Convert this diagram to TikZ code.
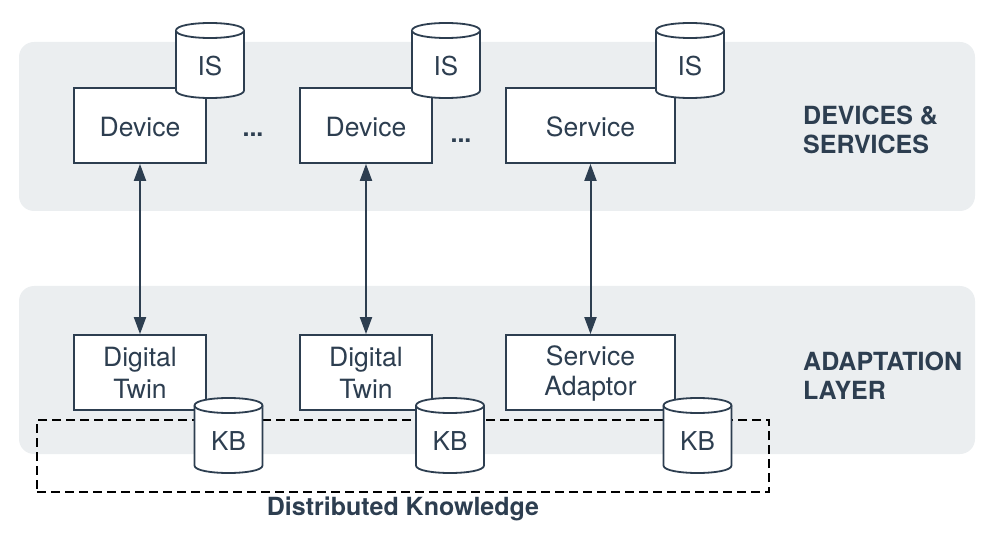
\documentclass[tikz,border=0pt]{standalone}
\usepackage{fontspec}
\setmainfont{TeX Gyre Heros}
\usetikzlibrary{arrows.meta}
\definecolor{navy}{HTML}{2D3E50}
\definecolor{bandc}{HTML}{EBEEF0}
\tikzset{
  band/.style={fill=bandc, rounded corners=15pt, inner sep=0pt},
  box/.style={draw=navy, fill=white, line width=1.8pt, inner sep=0pt, text=navy,
     align=center, font=\fontsize{26.5}{32}\selectfont},
  cylstyle/.style={draw=navy, fill=white, line width=1.8pt},
  cylshadow/.style={fill=black, opacity=0.18},
  cyltext/.style={text=navy, inner sep=0pt, font=\fontsize{26}{30}\selectfont},
  lbl/.style={text=navy, inner sep=0pt, align=left, font=\fontsize{25}{29}\selectfont\bfseries},
  biarrow/.style={draw=navy, line width=2pt, {Triangle[width=12pt,length=17pt]}-{Triangle[width=12pt,length=17pt]}},
  dknow/.style={draw=black, line width=1.6pt, dash pattern=on 9pt off 5pt}
}
\newcommand{\dbcyl}[4]{% name, cx, ytop, label
  \fill[cylshadow] ({#2-33},{#3+66}) .. controls ({#2-33},{#3+78}) and ({#2+33},{#3+78}) .. ({#2+33},{#3+66}) -- ({#2+33},{#3+60}) -- ({#2-33},{#3+60}) -- cycle;
  \filldraw[cylstyle] ({#2-34},{#3+7.5}) -- ({#2-34},{#3+67.5})
     .. controls ({#2-34},{#3+77.5}) and ({#2+34},{#3+77.5}) .. ({#2+34},{#3+67.5})
     -- ({#2+34},{#3+7.5})
     .. controls ({#2+34},{#3-2.5}) and ({#2-34},{#3-2.5}) .. cycle;
  \draw[cylstyle] ({#2-34},{#3+7.5}) .. controls ({#2-34},{#3+17.5}) and ({#2+34},{#3+17.5}) .. ({#2+34},{#3+7.5});
  \node[cyltext] (#1) at (#2,{#3+43}) {#4};
}
\begin{document}
\begin{tikzpicture}[x=1pt,y=-1pt]
\useasboundingbox (0,0) rectangle (994,540);
% bands
\node[band, minimum width=956pt, minimum height=169pt] (topband) at (497,126.5) {};
\node[band, minimum width=956pt, minimum height=168pt] (botband) at (497,370) {};
% top boxes
\node[box, minimum width=132pt, minimum height=75pt, text height=23pt, text depth=0pt] (dev1) at (140,125.5) {Device};
\node[box, minimum width=132pt, minimum height=75pt, text height=23pt, text depth=0pt] (dev2) at (366,125.5) {Device};
\node[box, minimum width=169pt, minimum height=75pt, text height=23pt, text depth=0pt] (svc) at (590.5,125.5) {Service};
\node[text=navy, font=\fontsize{25}{29}\selectfont\bfseries, inner sep=0pt, anchor=base] (dots1) at (253,137) {...};
\node[text=navy, font=\fontsize{25}{29}\selectfont\bfseries, inner sep=0pt, anchor=base] (dots2) at (461,143) {...};
% bottom boxes
\node[box, minimum width=132pt, minimum height=75pt] (dt1) at (140,372.5) {Digital\\Twin};
\node[box, minimum width=132pt, minimum height=75pt] (dt2) at (366,372.5) {Digital\\Twin};
\node[box, minimum width=169pt, minimum height=75pt, font=\fontsize{26.5}{30}\selectfont] (sa) at (590.5,372.5) {\rule{0pt}{22pt}Service\\Adaptor};
% arrows
\draw[biarrow] (dev1.south) -- (dt1.north);
\draw[biarrow] (dev2.south) -- (dt2.north);
\draw[biarrow] (svc.south) -- (sa.north);
% IS cylinders
\dbcyl{is1}{210}{23}{IS}
\dbcyl{is2}{446}{23}{IS}
\dbcyl{is3}{690}{23}{IS}
% distributed knowledge
\node[dknow, minimum width=732pt, minimum height=72pt, inner sep=0pt] (dk) at (403,456) {};
\node[text=navy, font=\fontsize{25}{28}\selectfont\bfseries, inner sep=0pt, anchor=base] (dklbl) at (403,515) {Distributed Knowledge};
% KB cylinders
\dbcyl{kb1}{228.5}{398}{KB}
\dbcyl{kb2}{450}{398}{KB}
\dbcyl{kb3}{697.5}{398}{KB}
% layer labels
\node[lbl, anchor=north west] (l1) at (803,106) {DEVICES \&\\SERVICES};
\node[lbl, anchor=north west] (l2) at (803,352) {ADAPTATION\\LAYER};
\end{tikzpicture}
\end{document}
